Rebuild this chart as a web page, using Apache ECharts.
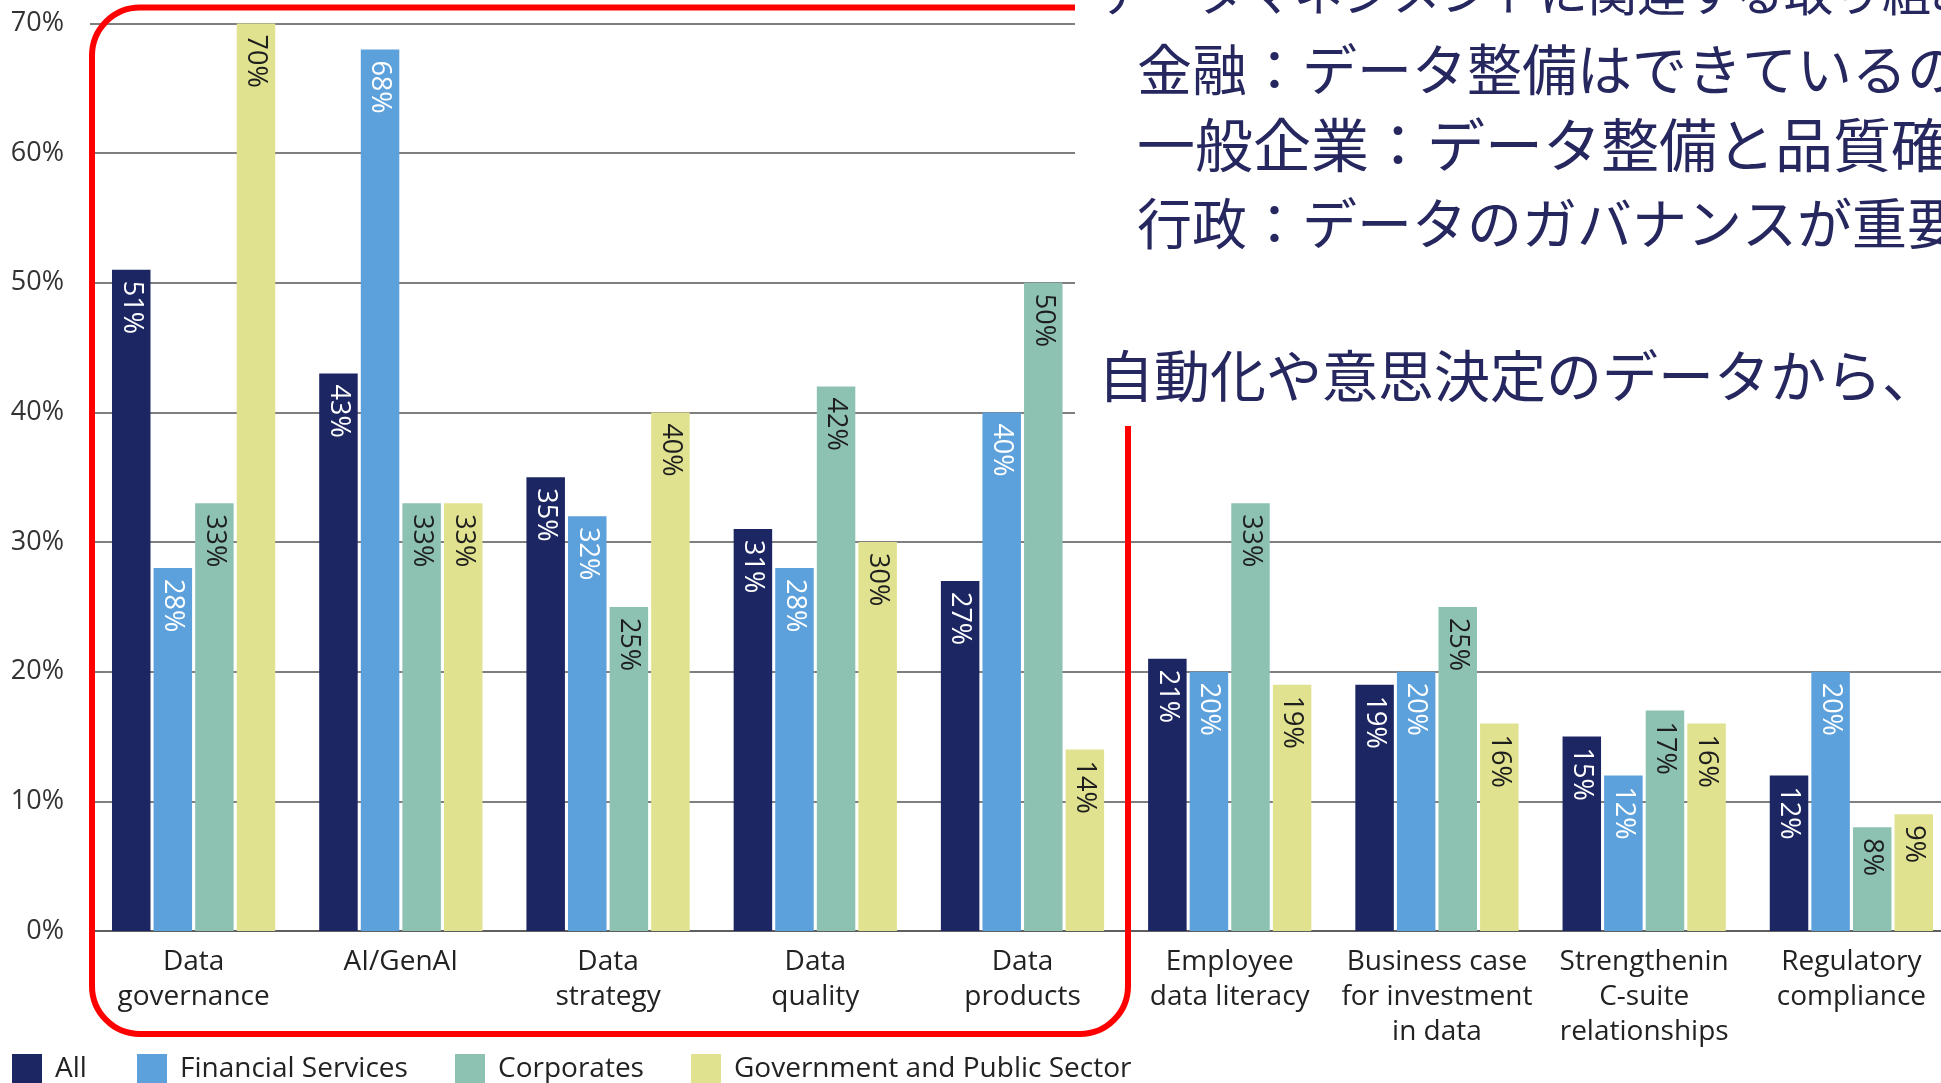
<!DOCTYPE html>
<html>
<head>
<meta charset="utf-8">
<script src="https://cdn.jsdelivr.net/npm/echarts@6/dist/echarts.min.js"></script>
<style>
html,body{margin:0;padding:0;background:#fff;}
#chart{width:1941px;height:1083px;}
</style>
</head>
<body>
<div id="chart"></div>
<script>
const categories = [
  "Data\ngovernance", "AI/GenAI", "Data\nstrategy", "Data\nquality", "Data\nproducts",
  "Employee\ndata literacy", "Business case\nfor investment\nin data",
  "Strengthenin\nC-suite\nrelationships", "Regulatory\ncompliance"
];
const seriesNames = ["All", "Financial Services", "Corporates", "Government and Public Sector"];
const allValues  = [51, 43, 35, 31, 27, 21, 19, 15, 12];
const finValues  = [28, 68, 32, 28, 40, 20, 20, 12, 20];
const corpValues = [33, 33, 25, 42, 50, 33, 25, 17, 8];
const govValues  = [70, 33, 40, 30, 14, 19, 16, 16, 9];
const yTicks = [0, 10, 20, 30, 40, 50, 60, 70];

const noteLines = [
  "データマネジメントに関連する取り組み",
  "金融：データ整備はできているの",
  "一般企業：データ整備と品質確",
  "行政：データのガバナンスが重要",
  "自動化や意思決定のデータから、"
];

const colors = ["#1b2663", "#5ca1dc", "#8dc2b3", "#e0e28f"];
const labelColors = ["#ffffff", "#ffffff", "#1e1e1e", "#1e1e1e"];
const FONT = "'Open Sans', 'Noto Sans', sans-serif";
const JFONT = "'Noto Sans CJK JP', sans-serif";

const dataSets = [allValues, finValues, corpValues, govValues];

const series = seriesNames.map((name, i) => ({
  name: name,
  type: 'bar',
  data: dataSets[i],
  barWidth: 38.5,
  barGap: '8%',
  itemStyle: { color: colors[i] },
  label: {
    show: true,
    position: 'insideTop',
    distance: 11,
    rotate: -90,
    align: 'left',
    verticalAlign: 'middle',
    formatter: '{c}%',
    color: labelColors[i],
    fontSize: 27,
    fontFamily: FONT
  },
  z: 2
}));

const legendLefts = [12, 137, 455, 691];
const legends = seriesNames.map((name, i) => ({
  data: [name],
  left: legendLefts[i],
  top: 1054,
  padding: 0,
  itemWidth: 30,
  itemHeight: 30,
  icon: 'rect',
  textStyle: { fontSize: 28, color: '#222', fontFamily: FONT, padding: [0, 0, 0, 8] }
}));

const noteX = [1098, 1137, 1137, 1137, 1098];
const noteY = [-8, 69, 145, 223, 376];
const noteSize = [49, 55, 58, 55, 56];

const graphics = [
  {
    type: 'rect', z: 100,
    shape: { x: 92, y: 7.5, width: 1036, height: 1026.5, r: 48 },
    style: { fill: 'none', stroke: '#ff0000', lineWidth: 6 }
  },
  {
    type: 'rect', z: 101,
    shape: { x: 1075, y: 0, width: 866, height: 426 },
    style: { fill: '#ffffff' }
  }
].concat(noteLines.map((t, i) => ({
  type: 'text', z: 102,
  x: noteX[i], y: noteY[i],
  style: {
    text: t,
    fill: '#26275f',
    font: noteSize[i] + 'px ' + JFONT,
    textVerticalAlign: 'middle',
    textAlign: 'left'
  }
})));

const chart = echarts.init(document.getElementById('chart'), null, { renderer: 'canvas' });
chart.setOption({
  animation: false,
  backgroundColor: '#ffffff',
  grid: { left: 90, top: 23.5, width: 1865, height: 907.5, containLabel: false, outerBoundsMode: 'none' },
  legend: legends,
  xAxis: {
    type: 'category',
    data: categories,
    axisTick: { show: false },
    axisLine: { show: true, lineStyle: { color: '#555', width: 1.5 } },
    axisLabel: {
      interval: 0,
      margin: 14,
      fontSize: 28,
      lineHeight: 35,
      color: '#222',
      fontFamily: FONT
    }
  },
  yAxis: {
    type: 'value',
    min: yTicks[0],
    max: yTicks[yTicks.length - 1],
    interval: 10,
    axisLine: { show: false },
    axisTick: { show: false },
    splitLine: { lineStyle: { color: '#555', width: 1.5 } },
    axisLabel: {
      formatter: '{value}%',
      margin: 26,
      fontSize: 27,
      color: '#333',
      fontFamily: FONT
    }
  },
  series: series,
  graphic: graphics
});
</script>
</body>
</html>
